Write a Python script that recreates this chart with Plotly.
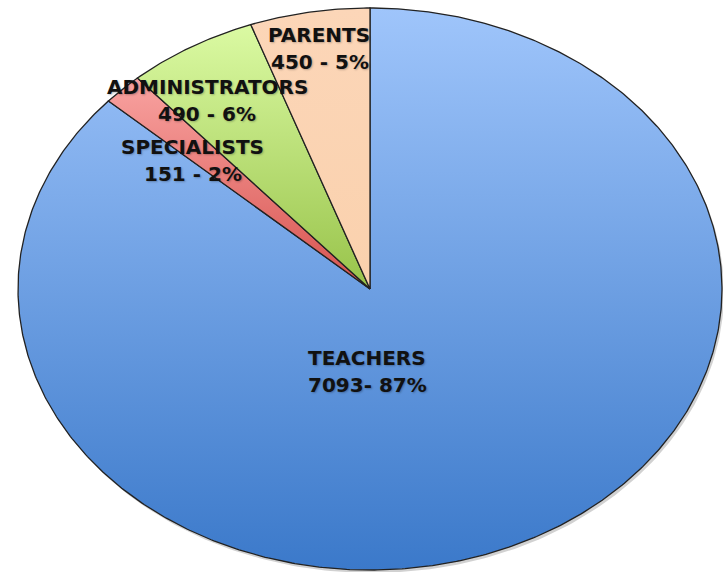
import numpy as np
import plotly.graph_objects as go

# ---- data ----
categories = ["TEACHERS", "SPECIALISTS", "ADMINISTRATORS", "PARENTS"]
values = [7093, 151, 490, 450]
value_labels = ["7093- 87%", "151 - 2%", "490 - 6%", "450 - 5%"]

# ---- styling ----
top_colors = ["#9fc5fb", "#f9a3a1", "#dbfaa3", "#fcd6b8"]
bottom_colors = ["#3b79ca", "#d6524e", "#98c34a", "#fad1ad"]
RX, RY = 352, 281  # ellipse radii in px
# label line centres relative to pie centre (x right, y up), px
name_pos = [(-3, -68.5), (-177.5, 142.5), (-162.5, 202.3), (-51.5, 254.3)]
value_pos = [(-2.5, -96), (-177, 115), (-163, 175), (-50, 227.3)]

fig = go.Figure()

# soft shadow under the ellipse
t = np.linspace(0, 2 * np.pi, 400)
fig.add_trace(go.Scatter(x=RX * np.sin(t) + 2, y=RY * np.cos(t) - 3, mode="lines",
                         fill="toself", fillcolor="rgba(0,0,0,0.18)",
                         line=dict(width=0), hoverinfo="skip", showlegend=False))

total = sum(values)
cum = 0.0
for i, v in enumerate(values):
    a0 = cum / total * 2 * np.pi
    cum += v
    a1 = cum / total * 2 * np.pi
    n = max(int((a1 - a0) / (np.pi / 360)), 4)
    th = np.linspace(a0, a1, n)
    xs = np.concatenate([[0], RX * np.sin(th), [0]])
    ys = np.concatenate([[0], RY * np.cos(th), [0]])
    fig.add_trace(go.Scatter(
        x=xs, y=ys, mode="lines", fill="toself",
        fillgradient=dict(type="vertical",
                          colorscale=[[0, bottom_colors[i]], [1, top_colors[i]]]),
        line=dict(color="#222222", width=1.3),
        hoverinfo="skip", showlegend=False))

font = dict(family="DejaVu Sans", size=20, color="#111111", weight="bold",
            shadow="1px 1px 2px rgba(0,0,0,0.25)")
for i, cat in enumerate(categories):
    fig.add_annotation(x=name_pos[i][0], y=name_pos[i][1], text=cat, showarrow=False,
                       font=font, xanchor="center", yanchor="middle")
    fig.add_annotation(x=value_pos[i][0], y=value_pos[i][1], text=value_labels[i],
                       showarrow=False, font=font, xanchor="center", yanchor="middle")

W, H = 723, 572
CX, CY = 370, 289
fig.update_layout(
    width=W, height=H, margin=dict(l=0, r=0, t=0, b=0),
    paper_bgcolor="white", plot_bgcolor="white",
    xaxis=dict(range=[-CX, W - CX], visible=False, fixedrange=True),
    yaxis=dict(range=[-(H - CY), CY], visible=False, fixedrange=True),
)
fig.write_html(
    "out.html",
    config={"displayModeBar": False},
    post_script="document.body.style.margin='0';"
                "document.documentElement.style.overflow='hidden';",
)
